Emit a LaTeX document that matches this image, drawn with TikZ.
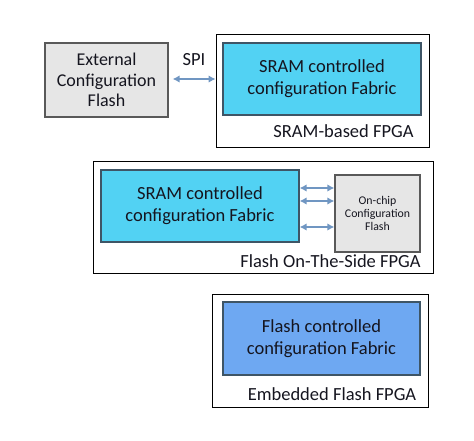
\documentclass[tikz,border=0pt]{standalone}
\usepackage{fontspec}
\setmainfont{Carlito}
\usetikzlibrary{arrows.meta,shadows,calc}
\definecolor{cyanfill}{HTML}{52D2F3}
\definecolor{bluefill}{HTML}{6EA8F2}
\definecolor{grayfill}{HTML}{E6E6E6}
\definecolor{boxedge}{HTML}{3E5566}
\definecolor{arrowcol}{HTML}{7096C2}
\definecolor{txt}{HTML}{15151F}
\tikzset{
  fabric/.style={draw=boxedge, line width=1.2pt, minimum width=198pt, minimum height=72pt,
    align=center, text=txt, font=\fontsize{18.5}{21.7}\selectfont, inner sep=0pt,
    drop shadow={shadow xshift=1.2pt, shadow yshift=-1.2pt, opacity=0.35}},
  flashbox/.style={draw=black!65, line width=1.2pt, fill=grayfill, align=center, text=txt,
    inner sep=0pt, drop shadow={shadow xshift=1.2pt, shadow yshift=-1.2pt, opacity=0.35}},
  frame/.style={draw=black, line width=0.8pt, inner sep=0pt},
  lbl/.style={text=txt, font=\fontsize{18.5}{21.7}\selectfont, inner sep=0pt},
  link/.style={draw=arrowcol, line width=2.2pt, {Latex[length=7pt,width=7.5pt]}-{Latex[length=7pt,width=7.5pt]}},
}
\begin{document}
\begin{tikzpicture}[x=1pt,y=-1pt]
\useasboundingbox (0,0) rectangle (474,440);
% top panel
\node[frame, minimum width=213pt, minimum height=113pt] (outer1) at (322.5,90.5) {};
\node[fabric, fill=cyanfill] (sram1) at (322,79) {SRAM controlled\\configuration Fabric};
\node[flashbox, minimum width=123pt, minimum height=74pt, font=\fontsize{18}{20.5}\selectfont] (ext) at (106.5,80) {External\\Configuration\\Flash};
\node[lbl] (spi) at (194,60) {SPI};
\node[lbl] (lab1) at (343.5,131) {SRAM-based FPGA};
\draw[link, shorten <=4pt] (ext.east |- sram1.west) -- (outer1.west |- sram1.west);
% middle panel
\node[frame, minimum width=340pt, minimum height=112pt] (outer2) at (263,217) {};
\node[fabric, fill=cyanfill] (sram2) at (200,206) {SRAM controlled\\configuration Fabric};
\node[flashbox, minimum width=85pt, minimum height=77pt, font=\fontsize{11.8}{13.3}\selectfont] (onchip) at (377.5,213.5) {On-chip\\Configuration\\Flash};
\node[lbl] (lab2) at (330.5,261) {Flash On-The-Side FPGA};
\draw[link] ([yshift=18pt]sram2.east) -- ([yshift=18pt]sram2.east -| onchip.west);
\draw[link] ([yshift=5pt]sram2.east) -- ([yshift=5pt]sram2.east -| onchip.west);
\draw[link] ([yshift=-21pt]sram2.east) -- ([yshift=-21pt]sram2.east -| onchip.west);
% bottom panel
\node[frame, minimum width=216pt, minimum height=113pt] (outer3) at (320,350.5) {};
\node[fabric, fill=bluefill, minimum width=197pt, minimum height=73pt] (flashfab) at (321.5,338.5) {Flash controlled\\configuration Fabric};
\node[lbl] (lab3) at (332,394) {Embedded Flash FPGA};
\end{tikzpicture}
\end{document}
